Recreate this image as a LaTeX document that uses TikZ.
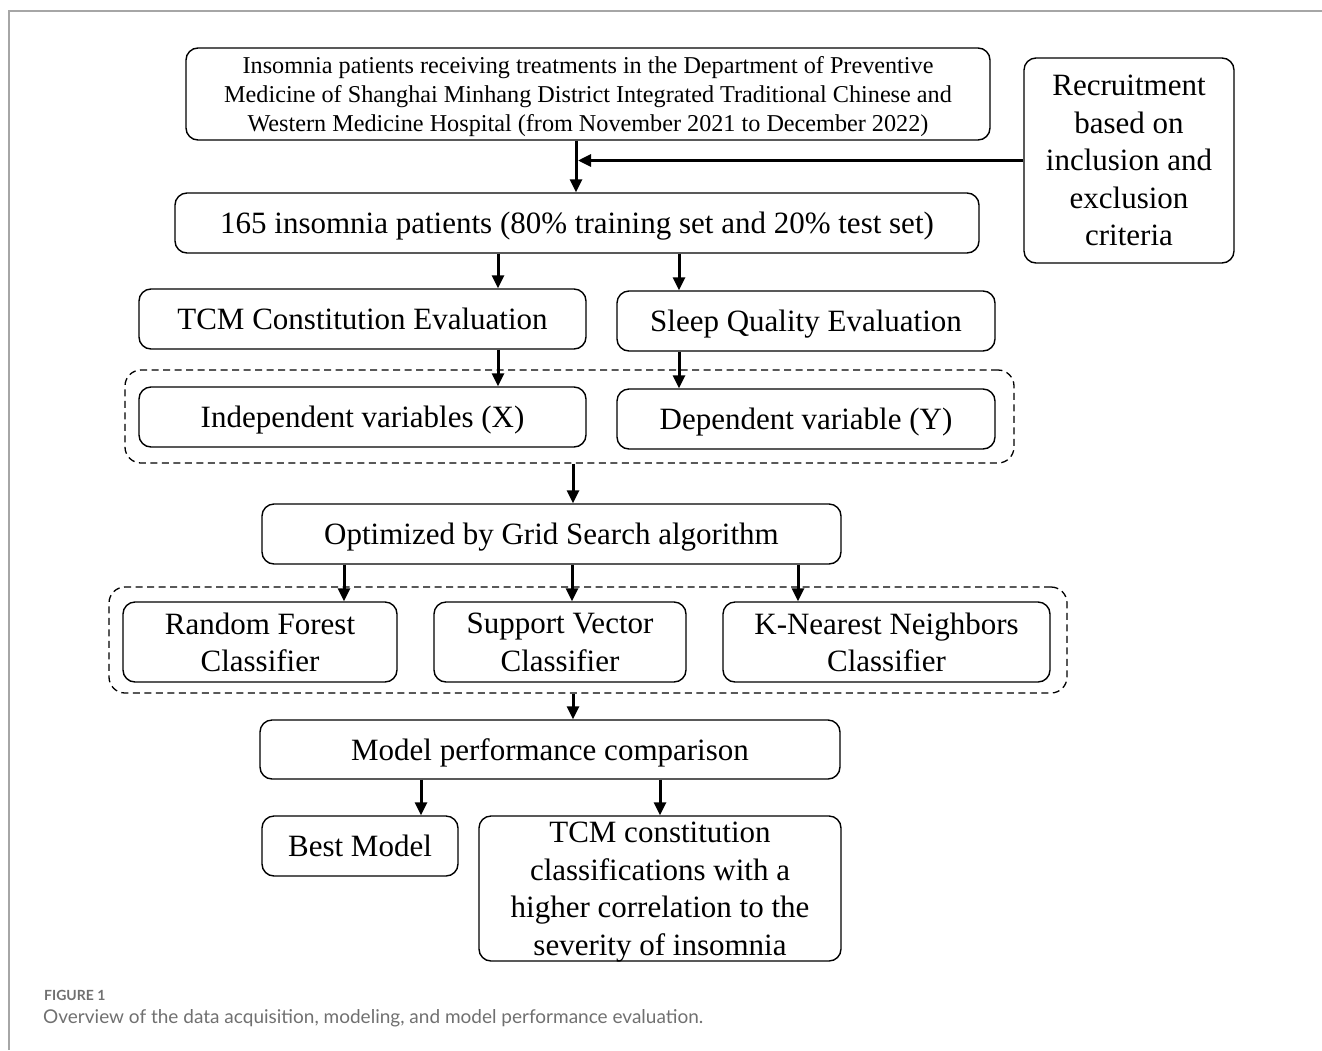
\documentclass[tikz,border=0pt]{standalone}
\usepackage{fontspec}
\setmainfont{Liberation Serif}
\newfontfamily\capfont{Lato}
\usetikzlibrary{arrows.meta}
\definecolor{capgray}{HTML}{707070}
\tikzset{
  box/.style={draw, rounded corners=12pt, line width=1.4pt, inner sep=0pt, align=center,
    text depth=0pt, font=\fontsize{31}{37.5}\selectfont},
  grp/.style={draw, dash pattern=on 7pt off 4.5pt, rounded corners=16pt, line width=1.3pt},
  arr/.style={line width=3pt, -{Triangle[length=13pt,width=12pt]}},
}
\begin{document}
\begin{tikzpicture}[x=1pt,y=-1pt]
\useasboundingbox (0,0) rectangle (1322,1050);
\draw[black!35, line width=1.5pt] (9,1050) -- (9,11) -- (1322,11);

\node[box, minimum width=804, minimum height=92, text depth=-4pt, font=\fontsize{24.2}{29}\selectfont] (top) at (588,94)
  {Insomnia patients receiving treatments in the Department of Preventive\\
   Medicine of Shanghai Minhang District Integrated Traditional Chinese and\\
   Western Medicine Hospital (from November 2021 to December 2022)};
\node[box, minimum width=210, minimum height=205, text depth=-4pt] (rec) at (1129,160.5)
  {Recruitment\\based on\\inclusion and\\exclusion\\criteria};
\node[box, minimum width=804, minimum height=60] (pat) at (577,223)
  {165 insomnia patients (80\% training set and 20\% test set)};
\node[box, minimum width=447, minimum height=60] (tcm) at (362.5,319)
  {TCM Constitution Evaluation};
\node[box, minimum width=378, minimum height=60] (sqe) at (806,321)
  {Sleep Quality Evaluation};
\node[grp, minimum width=889, minimum height=93, inner sep=0pt] (g1) at (569.5,416.5) {};
\node[box, minimum width=447, minimum height=60] (ind) at (362.5,417)
  {Independent variables (X)};
\node[box, minimum width=378, minimum height=60] (dep) at (806,419)
  {Dependent variable (Y)};
\node[box, minimum width=579, minimum height=60] (grid) at (551.5,534)
  {Optimized by Grid Search algorithm};
\node[grp, minimum width=958, minimum height=106, inner sep=0pt] (g2) at (588,640) {};
\node[box, minimum width=274, minimum height=80] (rf) at (260,642)
  {Random Forest\\Classifier};
\node[box, minimum width=252, minimum height=80] (svc) at (560,642)
  {Support Vector\\Classifier};
\node[box, minimum width=327, minimum height=80] (knn) at (886.5,642)
  {K-Nearest Neighbors\\Classifier};
\node[box, minimum width=580, minimum height=59] (mpc) at (550,749.5)
  {Model performance comparison};
\node[box, minimum width=196, minimum height=60] (best) at (360,846)
  {Best Model};
\node[box, minimum width=362, minimum height=145] (cls) at (660,888.5)
  {TCM constitution\\classifications with a\\higher correlation to the\\severity of insomnia};

\draw[arr] (top.south -| 576,0) -- (pat.north -| 576,0);
\draw[arr] (rec.west) -- (rec.west -| 578,0);
\draw[arr] (pat.south -| 498,0) -- (tcm.north -| 498,0);
\draw[arr] (pat.south -| 679,0) -- (sqe.north -| 679,0);
\draw[arr] (tcm.south -| 498,0) -- (ind.north -| 498,0);
\draw[arr] (sqe.south -| 679,0) -- (dep.north -| 679,0);
\draw[arr] (g1.south -| 573,0) -- (grid.north -| 573,0);
\draw[arr] (grid.south -| 344,0) -- (rf.north -| 344,0);
\draw[arr] (grid.south -| 572,0) -- (svc.north -| 572,0);
\draw[arr] (grid.south -| 798,0) -- (knn.north -| 798,0);
\draw[arr] (g2.south -| 573,0) -- (mpc.north -| 573,0);
\draw[arr] (mpc.south -| 421,0) -- (best.north -| 421,0);
\draw[arr] (mpc.south -| 660,0) -- (cls.north -| 660,0);

\node[anchor=base west, inner sep=0pt, text=capgray, font=\capfont\bfseries\fontsize{14}{16}\selectfont] (fig) at (44,1000) {FIGURE 1};
\node[anchor=base west, inner sep=0pt, text=capgray, font=\capfont\fontsize{19}{22}\selectfont] (cap) at (43,1023)
  {Overview of the data acquisition, modeling, and model performance evaluation.};
\end{tikzpicture}
\end{document}
